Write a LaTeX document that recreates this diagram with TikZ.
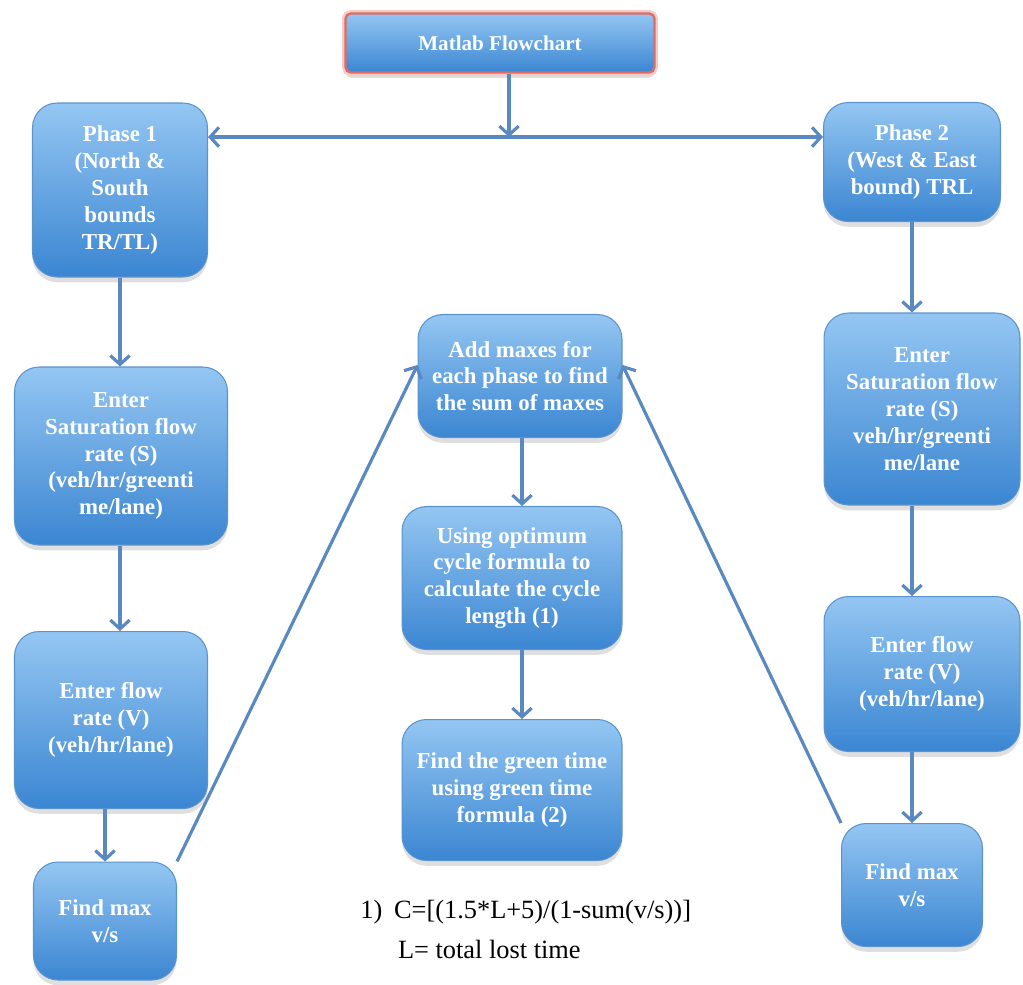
\documentclass[tikz,border=0pt]{standalone}
\usepackage{fontspec}
\setmainfont{Liberation Serif}
\usetikzlibrary{arrows.meta,positioning,shadows,calc}
\definecolor{boxtop}{HTML}{94C6F2}
\definecolor{boxbot}{HTML}{3B86D2}
\definecolor{boxedge}{HTML}{5B93CB}
\definecolor{flowline}{HTML}{5A89C2}
\definecolor{titleedge}{HTML}{DD6C66}
\tikzset{
    stepbox/.style ={rectangle, rounded corners=14pt, draw=boxedge, line width=0.6pt,
        top color=boxtop, bottom color=boxbot, text=white, align=center, inner sep=2pt,
        font=\bfseries\fontsize{13}{15.3}\selectfont,
        drop shadow={shadow xshift=0pt, shadow yshift=-3pt, opacity=0.25}},
    titlebox/.style={stepbox, rounded corners=3pt, draw=titleedge, line width=1.3pt,
        preaction={draw=titleedge!35, line width=4pt},
        font=\bfseries\fontsize{12}{14}\selectfont},
    flow/.style ={draw=flowline, line width=1.8pt, -{Straight Barb[length=5pt,width=11pt]}},
    twoway/.style={flow, {Straight Barb[length=5pt,width=11pt]}-{Straight Barb[length=5pt,width=11pt]}},
    note/.style ={align=left, inner sep=0pt, font=\fontsize{15}{22.7}\selectfont}
}

\begin{document}
\begin{tikzpicture}[x=0.02cm, y=-0.02cm]
        \useasboundingbox (0,0) rectangle (1023,984);
        % top
        \node[titlebox, minimum width=6.18cm, minimum height=1.18cm] (title) at (500,43) {Matlab Flowchart};
        \coordinate (split) at (509,137);
        % phase 1 column
        \node[stepbox, minimum width=3.5cm, minimum height=3.48cm] (phase1) at (120,190) {Phase 1\\(North \&\\South\\bounds\\TR/TL)};
        \node[stepbox, minimum width=4.26cm, minimum height=3.56cm] (sat1) at (121,456) {Enter\\Saturation flow\\rate (S)\\(veh/hr/greenti\\me/lane)};
        \node[stepbox, minimum width=3.86cm, minimum height=3.54cm] (flow1) at (111,720) {Enter flow\\rate (V)\\(veh/hr/lane)};
        \node[stepbox, minimum width=2.86cm, minimum height=2.36cm] (max1) at (105,921) {Find max\\v/s};
        % middle column
        \node[stepbox, minimum width=4.08cm, minimum height=2.46cm] (add) at (520,376) {Add maxes for\\each phase to find\\the sum of maxes};
        \node[stepbox, minimum width=4.4cm, minimum height=2.86cm] (opt) at (512,578) {Using optimum\\cycle formula to\\calculate the cycle\\length (1)};
        \node[stepbox, minimum width=4.4cm, minimum height=2.82cm] (green) at (512,790) {Find the green time\\using green time\\formula (2)};
        \node[note, anchor=west] (formula) at (360,932) {1)\hspace{0.45em}C=[(1.5*L+5)/(1-sum(v/s))]\\\phantom{1)}\hspace{0.6em}L= total lost time};
        % phase 2 column
        \node[stepbox, minimum width=3.54cm, minimum height=2.38cm] (phase2) at (912,162) {Phase 2\\(West \& East\\bound) TRL};
        \node[stepbox, minimum width=3.92cm, minimum height=3.84cm] (sat2) at (922,409) {Enter\\Saturation flow\\rate (S)\\veh/hr/greenti\\me/lane};
        \node[stepbox, minimum width=3.92cm, minimum height=3.1cm] (flow2) at (922,674) {Enter flow\\rate (V)\\(veh/hr/lane)};
        \node[stepbox, minimum width=2.82cm, minimum height=2.46cm] (max2) at (912,885) {Find max\\v/s};

        \draw[flow] (title.south -| split) -- (split);
        \draw[twoway] (split -| phase1.east) -- (split -| phase2.west);
        \draw[flow] (phase1) -- (phase1 |- sat1.north);
        \draw[flow] (phase1 |- sat1.south) -- (phase1 |- flow1.north);
        \draw[flow] (flow1.south -| max1) -- (max1);
        \draw[flow] (max1.north east) -- ($(add.west)+(0,-11)$);
        \draw[flow] (add.south -| 522,0) -- (opt.north -| 522,0);
        \draw[flow] (opt.south -| 522,0) -- (green.north -| 522,0);
        \draw[flow] (phase2) -- (phase2 |- sat2.north);
        \draw[flow] (phase2 |- sat2.south) -- (phase2 |- flow2.north);
        \draw[flow] (phase2 |- flow2.south) -- (max2);
        \draw[flow] (max2.north west) -- ($(add.east)+(0,-11)$);
    \end{tikzpicture}
\end{document}
